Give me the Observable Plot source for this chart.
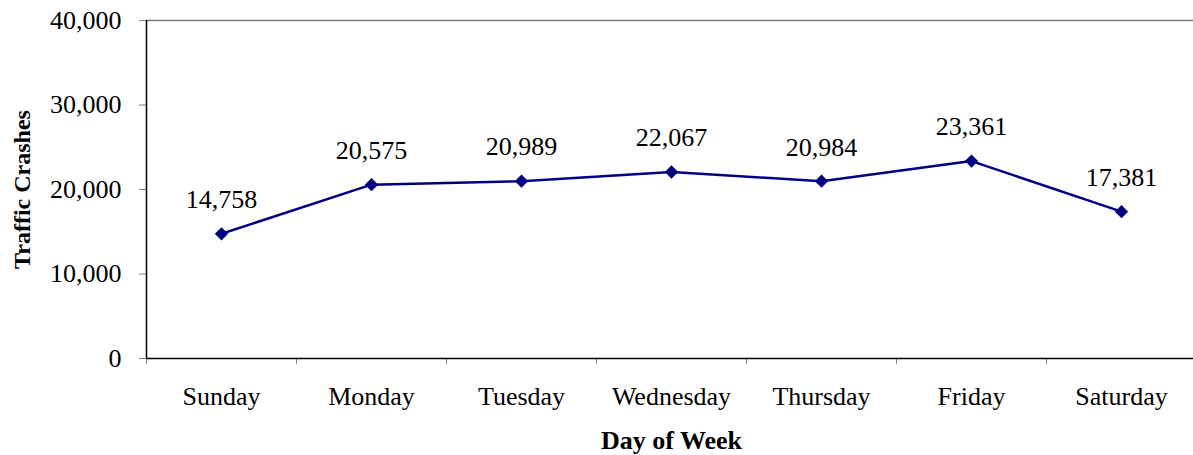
<!DOCTYPE html>
<html>
<head>
<meta charset="utf-8">
<script src="https://cdn.jsdelivr.net/npm/d3@7"></script>
<script src="https://cdn.jsdelivr.net/npm/@observablehq/plot@0.6"></script>
<style>
  html, body { margin: 0; padding: 0; background: #fff; }
  #chart svg { display: block; }
</style>
</head>
<body>
<div id="chart"></div>
<script>
const days = ["Sunday", "Monday", "Tuesday", "Wednesday", "Thursday", "Friday", "Saturday"];
const crashes = [14758, 20575, 20989, 22067, 20984, 23361, 17381];
const yTicks = [0, 10000, 20000, 30000, 40000];

const data = days.map((d, i) => ({day: d, value: crashes[i]}));
const fmt = d3.format(",");
const serif = "'Liberation Serif', 'Times New Roman', serif";

const chart = Plot.plot({
  width: 1193,
  height: 455,
  marginLeft: 146,
  marginTop: 20,
  marginBottom: 97,
  marginRight: -3,
  style: {fontFamily: serif, background: "#fff", color: "#000"},
  x: {type: "band", domain: days, padding: 0, label: null},
  y: {domain: [0, 40000], label: null},
  marks: [
    Plot.ruleY([40000], {stroke: "#808080", strokeWidth: 1.5}),
    Plot.axisY({ticks: yTicks, tickSize: 7, tickPadding: 18, stroke: "#808080", tickFormat: fmt, fontSize: 26, fill: "#000", label: null}),
    Plot.axisX({tickSize: 6, dx: -75, stroke: "#808080", text: null, label: null}),
    Plot.axisX({tickSize: 0, tickPadding: 28, fontSize: 26, fill: "#000", label: null}),
    Plot.ruleY([0], {stroke: "#000", strokeWidth: 1.5}),
    Plot.ruleX([days[0]], {dx: -75, stroke: "#000", strokeWidth: 1.5}),
    Plot.line(data, {x: "day", y: "value", stroke: "#000080", strokeWidth: 2.5}),
    Plot.dot(data, {x: "day", y: "value", symbol: "diamond2", r: 6, fill: "#000080", stroke: "none"}),
    Plot.text(data, {x: "day", y: "value", text: d => fmt(d.value), dy: -34, fontSize: 26, fill: "#000"}),
    Plot.text(["Day of Week"], {frameAnchor: "bottom", lineAnchor: "middle", dy: 82, text: d => d, fontSize: 26, fontWeight: "bold", fill: "#000"}),
    Plot.text(["Traffic Crashes"], {frameAnchor: "left", textAnchor: "middle", lineAnchor: "middle", dx: -124, rotate: -90, text: d => d, fontSize: 24, fontWeight: "bold", fill: "#000"})
  ]
});
document.getElementById("chart").appendChild(chart);
</script>
</body>
</html>
